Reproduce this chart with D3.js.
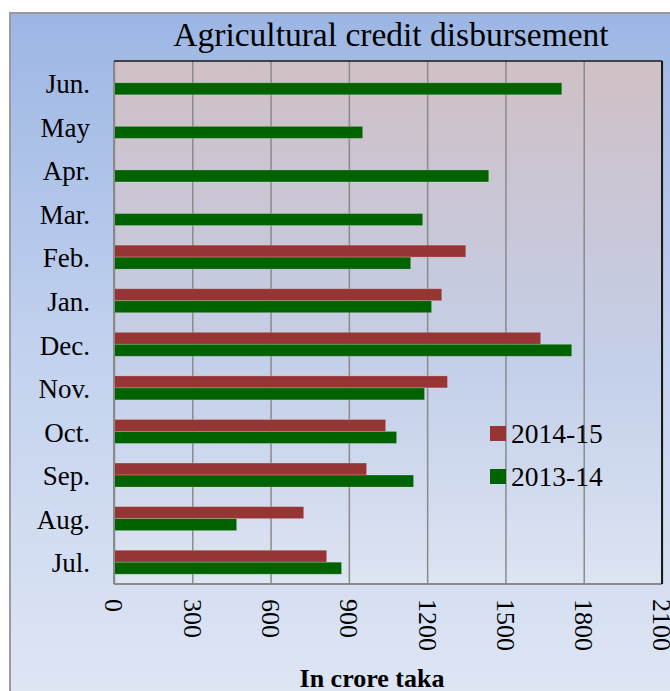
<!DOCTYPE html>
<html><head><meta charset="utf-8">
<script src="https://cdn.jsdelivr.net/npm/d3@7"></script>
<style>
html,body{margin:0;padding:0;background:#fff;}
svg{display:block;}
text{font-family:"Liberation Serif","Times New Roman",serif;fill:#000;}
</style></head>
<body>
<svg id="chart" width="670" height="691"></svg>
<script>
// ---- data ----
const months = ["Jul.","Aug.","Sep.","Oct.","Nov.","Dec.","Jan.","Feb.","Mar.","Apr.","May","Jun."];
const series = ["2014-15","2013-14"];
const values2014_15 = [815, 727, 968, 1041, 1278, 1635, 1256, 1348, null, null, null, null];
const values2013_14 = [872, 470, 1148, 1083, 1190, 1754, 1217, 1137, 1183, 1436, 953, 1716];
const xTicks = [0, 300, 600, 900, 1200, 1500, 1800, 2100];
const colors = ["#963634", "#006300"];
const title = "Agricultural credit disbursement";
const xTitle = "In crore taka";

const svg = d3.select("#chart");
const W = 670, H = 691;
const plot = {left: 114, right: 662, top: 61, bottom: 584};

const defs = svg.append("defs");
const g1 = defs.append("linearGradient").attr("id","outerBg").attr("x1",0).attr("y1",0).attr("x2",0).attr("y2",1);
g1.append("stop").attr("offset","0%").attr("stop-color","#9cb6e4");
g1.append("stop").attr("offset","50%").attr("stop-color","#c3d2ee");
g1.append("stop").attr("offset","100%").attr("stop-color","#dfe6f4");
const g2 = defs.append("linearGradient").attr("id","plotBg").attr("x1",0).attr("y1",0).attr("x2",0).attr("y2",1);
g2.append("stop").attr("offset","0%").attr("stop-color","#d0c0c5");
g2.append("stop").attr("offset","35%").attr("stop-color","#c8c8da");
g2.append("stop").attr("offset","60%").attr("stop-color","#c4d0ea");
g2.append("stop").attr("offset","100%").attr("stop-color","#dde4f2");

// outer panel
svg.append("rect").attr("x",10).attr("y",13).attr("width",W).attr("height",H)
  .attr("fill","url(#outerBg)").attr("stroke","#9a9a9a").attr("stroke-width",2);

// plot background
svg.append("rect").attr("x",plot.left).attr("y",plot.top)
  .attr("width",plot.right-plot.left).attr("height",plot.bottom-plot.top)
  .attr("fill","url(#plotBg)");

// scales
const x = d3.scaleLinear().domain([0, 2100]).range([plot.left, plot.right]);
const y = d3.scaleBand().domain(months.slice().reverse()).range([plot.top, plot.bottom])
  .paddingInner(0.45).paddingOuter(0.225);
const ySub = d3.scaleBand().domain(series).range([0, y.bandwidth()]);

// grid + x axis
const xAxis = svg.append("g").attr("transform",`translate(0,${plot.bottom})`)
  .call(d3.axisBottom(x).tickValues(xTicks).tickFormat(d3.format("d"))
    .tickSize(-(plot.bottom-plot.top)).tickSizeOuter(0));
xAxis.select(".domain").remove();
xAxis.selectAll(".tick line").attr("stroke","#8a8a8a").attr("stroke-width",1.5);
xAxis.selectAll(".tick text")
  .attr("font-size",26).attr("font-family","Liberation Serif, Times New Roman, serif")
  .attr("fill","#000")
  .attr("text-anchor","start")
  .attr("transform","rotate(90)")
  .attr("x",15).attr("y",0).attr("dy","0.35em");

// bars
const data = months.map((m,i)=>({m, v:[values2014_15[i], values2013_14[i]]}));
const groups = svg.append("g").selectAll("g").data(data).join("g")
  .attr("transform", d=>`translate(0,${y(d.m)})`);
groups.selectAll("rect")
  .data(d=>series.map((s,j)=>({s, v:d.v[j], c:colors[j]})).filter(e=>e.v!=null))
  .join("rect")
  .attr("x", x(0)).attr("y", e=>ySub(e.s))
  .attr("width", e=>x(e.v)-x(0)).attr("height", ySub.bandwidth())
  .attr("fill", e=>e.c)
  .attr("stroke","rgba(255,255,255,0.25)").attr("stroke-width",0.8);

// left axis (category labels)
const yAxis = svg.append("g").attr("transform",`translate(${plot.left},0)`)
  .call(d3.axisLeft(y).tickSize(0).tickPadding(24));
yAxis.select(".domain").remove();
yAxis.selectAll(".tick text").attr("font-size",27)
  .attr("font-family","Liberation Serif, Times New Roman, serif").attr("fill","#000")
  .attr("dy","0.38em");

// plot borders
svg.append("line").attr("x1",plot.left).attr("x2",plot.left).attr("y1",plot.top).attr("y2",plot.bottom)
  .attr("stroke","#8a8a8a").attr("stroke-width",2);
svg.append("line").attr("x1",plot.left).attr("x2",plot.right).attr("y1",plot.bottom).attr("y2",plot.bottom)
  .attr("stroke","#8a8a8a").attr("stroke-width",2);
svg.append("line").attr("x1",plot.left).attr("x2",plot.right).attr("y1",plot.top).attr("y2",plot.top)
  .attr("stroke","#1a1a1a").attr("stroke-width",1.5);
svg.append("line").attr("x1",plot.right).attr("x2",plot.right).attr("y1",plot.top).attr("y2",plot.bottom)
  .attr("stroke","#1a1a1a").attr("stroke-width",2);

// title
svg.append("text").attr("x",391).attr("y",46).attr("text-anchor","middle")
  .attr("font-size",33.5).text(title);

// x axis title
svg.append("text").attr("x",372).attr("y",687).attr("text-anchor","middle")
  .attr("font-size",26).attr("font-weight","bold").text(xTitle);

// legend
const legend = svg.append("g");
series.forEach((s,i)=>{
  const ly = 426 + i*43;
  legend.append("rect").attr("x",490).attr("y",ly).attr("width",16).attr("height",15).attr("fill",colors[i]);
  legend.append("text").attr("x",511).attr("y",ly+17).attr("font-size",27.5).text(s);
});
</script>
</body></html>
